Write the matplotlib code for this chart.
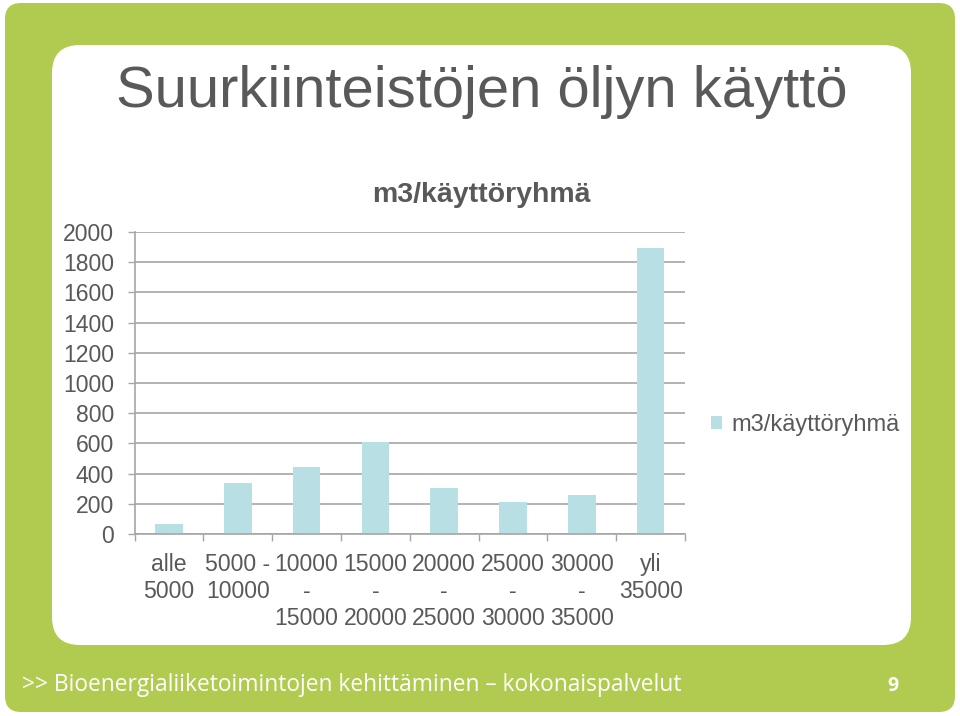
import matplotlib
matplotlib.use("Agg")
import matplotlib.pyplot as plt
from matplotlib.patches import FancyBboxPatch

categories = ["alle\n5000", "5000 -\n10000", "10000\n-\n15000", "15000\n-\n20000",
              "20000\n-\n25000", "25000\n-\n30000", "30000\n-\n35000", "yli\n35000"]
values = [68, 337, 446, 610, 305, 215, 259, 1893]
yticks = [0, 200, 400, 600, 800, 1000, 1200, 1400, 1600, 1800, 2000]
series_name = "m3/käyttöryhmä"
slide_title = "Suurkiinteistöjen öljyn käyttö"
footer = ">> Bioenergialiiketoimintojen kehittäminen \u2013 kokonaispalvelut"
page_no = "9"

GREEN = "#b1cb50"
BAR = "#b8dfe3"
TEXT = "#595959"
GRID = "#a6a6a6"

W, H = 960, 716
fig = plt.figure(figsize=(W / 100, H / 100), dpi=100)
fig.patch.set_facecolor("white")

# background layer in pixel coordinates
bg = fig.add_axes([0, 0, 1, 1], zorder=0)
bg.set_xlim(0, W)
bg.set_ylim(H, 0)
bg.axis("off")
bg.add_patch(FancyBboxPatch((5, 3), 950, 709, boxstyle="round,pad=0,rounding_size=16",
                            facecolor=GREEN, edgecolor="none"))
bg.add_patch(FancyBboxPatch((52, 45), 859, 600, boxstyle="round,pad=0,rounding_size=28",
                            facecolor="white", edgecolor="none"))
bg.text(116, 92, slide_title, fontsize=41.8, color=TEXT, family="Liberation Sans",
        va="center", ha="left")
bg.text(22, 685, footer, fontsize=16.4, color="white", family="Open Sans",
        va="center", ha="left")
bg.text(893, 686, page_no, fontsize=14, color="white", family="Open Sans",
        fontweight="bold", va="center", ha="center")
bg.text(481, 195, series_name, fontsize=20.5, fontweight="bold", color=TEXT,
        family="Liberation Sans", va="center", ha="center")

# chart axes
left, right, top, bottom = 134.6, 685.0, 232.0, 534.0
ax = fig.add_axes([left / W, (H - bottom) / H, (right - left) / W, (bottom - top) / H], zorder=1)
ax.set_facecolor("none")
x = list(range(len(categories)))
ax.bar(x, values, width=0.4, color=BAR, zorder=2, label=series_name)
ax.set_xlim(-0.5, len(categories) - 0.5)
ax.set_ylim(0, 2000)
ax.set_yticks(yticks)
ax.set_yticklabels([str(v) for v in yticks], fontsize=16.6, color=TEXT, family="Liberation Sans")
ax.set_xticks(x)
ax.set_xticklabels(categories, fontsize=16.6, color=TEXT, family="Liberation Sans", va="top")
ax.set_xticks([i - 0.5 for i in range(len(categories) + 1)], minor=True)
ax.tick_params(axis="x", which="major", length=0, pad=14)
ax.tick_params(axis="x", which="minor", length=5, color=GRID, width=1)
ax.tick_params(axis="y", which="major", length=5, color=GRID, width=1, pad=10)
ax.grid(axis="y", color=GRID, linewidth=1.2, zorder=0)
ax.set_axisbelow(True)
for s in ["top", "right"]:
    ax.spines[s].set_visible(False)
for s in ["left", "bottom"]:
    ax.spines[s].set_color(GRID)
    ax.spines[s].set_linewidth(1.2)

leg = ax.legend(loc="center left", bbox_to_anchor=(690 / W, (H - 425) / H),
                bbox_transform=fig.transFigure, frameon=False,
                handlelength=0.45, handleheight=0.45, handletextpad=0.4,
                prop={"family": "Liberation Sans", "size": 17})
for t in leg.get_texts():
    t.set_color(TEXT)

fig.savefig("out.png", dpi=100, facecolor="white")
